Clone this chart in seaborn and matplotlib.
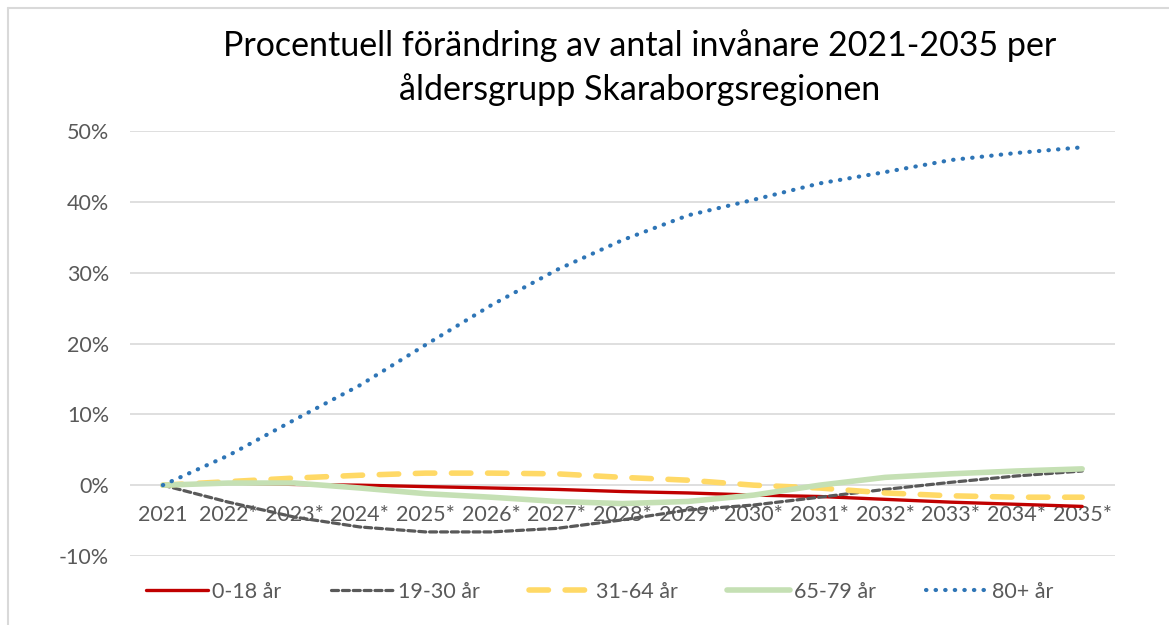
"""Procentuell förändring av antal invånare per åldersgrupp, Skaraborgsregionen."""

import matplotlib.pyplot as plt
import matplotlib.lines as mlines
import pandas as pd
import seaborn as sns
from matplotlib.ticker import PercentFormatter

years = ["2021", "2022*", "2023*", "2024*", "2025*", "2026*", "2027*", "2028*",
         "2029*", "2030*", "2031*", "2032*", "2033*", "2034*", "2035*"]

age_0_18 = [0.0, 0.3, 0.1, 0.0, -0.2, -0.4, -0.6, -0.9, -1.1, -1.4, -1.6, -2.0, -2.4, -2.7, -3.0]
age_19_30 = [0.0, -2.4, -4.5, -5.9, -6.6, -6.6, -6.1, -4.9, -3.5, -2.8, -1.7, -0.6, 0.4, 1.3, 2.0]
age_31_64 = [0.0, 0.5, 1.0, 1.4, 1.7, 1.7, 1.6, 1.1, 0.7, 0.0, -0.4, -1.1, -1.5, -1.7, -1.7]
age_65_79 = [0.0, 0.3, 0.3, -0.4, -1.2, -1.7, -2.3, -2.6, -2.3, -1.4, 0.0, 1.1, 1.6, 2.0, 2.3]
age_80 = [0.0, 4.2, 9.2, 14.1, 19.8, 25.4, 30.4, 34.6, 38.1, 40.3, 42.6, 44.2, 45.9, 46.9, 47.7]

groups = ["0-18 år", "19-30 år", "31-64 år", "65-79 år", "80+ år"]

styles = {
    "0-18 år": dict(color="#c00000", lw=2.4, ls="-"),
    "19-30 år": dict(color="#595959", lw=2.3, ls=(0, (2.2, 1.2))),
    "31-64 år": dict(color="#ffd966", lw=4.0, ls=(0, (3.5, 3.0))),
    "65-79 år": dict(color="#c5e0b4", lw=4.0, ls="-"),
    "80+ år": dict(color="#2e75b6", lw=3.0, ls=(0, (0.1, 2.2))),
}

df = pd.DataFrame({"year": years * 5,
                   "value": age_0_18 + age_19_30 + age_31_64 + age_65_79 + age_80,
                   "group": [g for g in groups for _ in years]})
df["pos"] = df["year"].map({y: i for i, y in enumerate(years)})

sns.set_style("white")
plt.rcParams["font.family"] = ["Lato", "DejaVu Sans"]
plt.rcParams["axes.unicode_minus"] = False

fig = plt.figure(figsize=(11.69, 6.25), dpi=100)
ax = fig.add_axes([130 / 1169, 1 - 556 / 625, 985 / 1169, 425 / 625])

for g in groups:
    st = styles[g]
    sub = df[df["group"] == g]
    sns.lineplot(data=sub, x="pos", y="value", ax=ax, color=st["color"],
                 linewidth=st["lw"], linestyle=st["ls"], solid_capstyle="round",
                 dash_capstyle="round", legend=False)

ax.set_xlim(-0.5, len(years) - 0.5)
ax.set_ylim(-10, 50)
ax.set_yticks(range(-10, 51, 10))
ax.yaxis.set_major_formatter(PercentFormatter(decimals=0))
ax.set_xticks(range(len(years)))
ax.set_xticklabels(years)
ax.grid(True, axis="y", color="#d9d9d9", lw=1.2)
ax.grid(False, axis="x")
for s in ax.spines.values():
    s.set_visible(False)
ax.spines["bottom"].set_position(("data", 0))
ax.tick_params(axis="both", length=0, labelsize=15.5, labelcolor="#595959")
ax.tick_params(axis="y", pad=15)
ax.tick_params(axis="x", pad=14)
ax.set_xlabel("")
ax.set_ylabel("")

fig.text(0.547, 1 - 46 / 625, "Procentuell förändring av antal invånare 2021-2035 per",
         ha="center", va="center", fontsize=24.5, color="black")
fig.text(0.547, 1 - 90 / 625, "åldersgrupp Skaraborgsregionen",
         ha="center", va="center", fontsize=24.5, color="black")

handles = [mlines.Line2D([], [], color=styles[g]["color"], lw=styles[g]["lw"],
                         ls=styles[g]["ls"], solid_capstyle="round",
                         dash_capstyle="round", label=g) for g in groups]
fig.legend(handles=handles, loc="center", bbox_to_anchor=(0.513, 1 - 592 / 625),
           ncol=5, frameon=False, fontsize=15.5, handlelength=2.9,
           columnspacing=2.3, handletextpad=0.2, labelcolor="#595959")

# chart frame (top and left edges visible)
fig.add_artist(mlines.Line2D([8 / 1169, 8 / 1169], [0, 1 - 8 / 625],
                             color="#d9d9d9", lw=1.5))
fig.add_artist(mlines.Line2D([8 / 1169, 1], [1 - 8 / 625, 1 - 8 / 625],
                             color="#d9d9d9", lw=1.5))

fig.savefig("out.png", dpi=100)
